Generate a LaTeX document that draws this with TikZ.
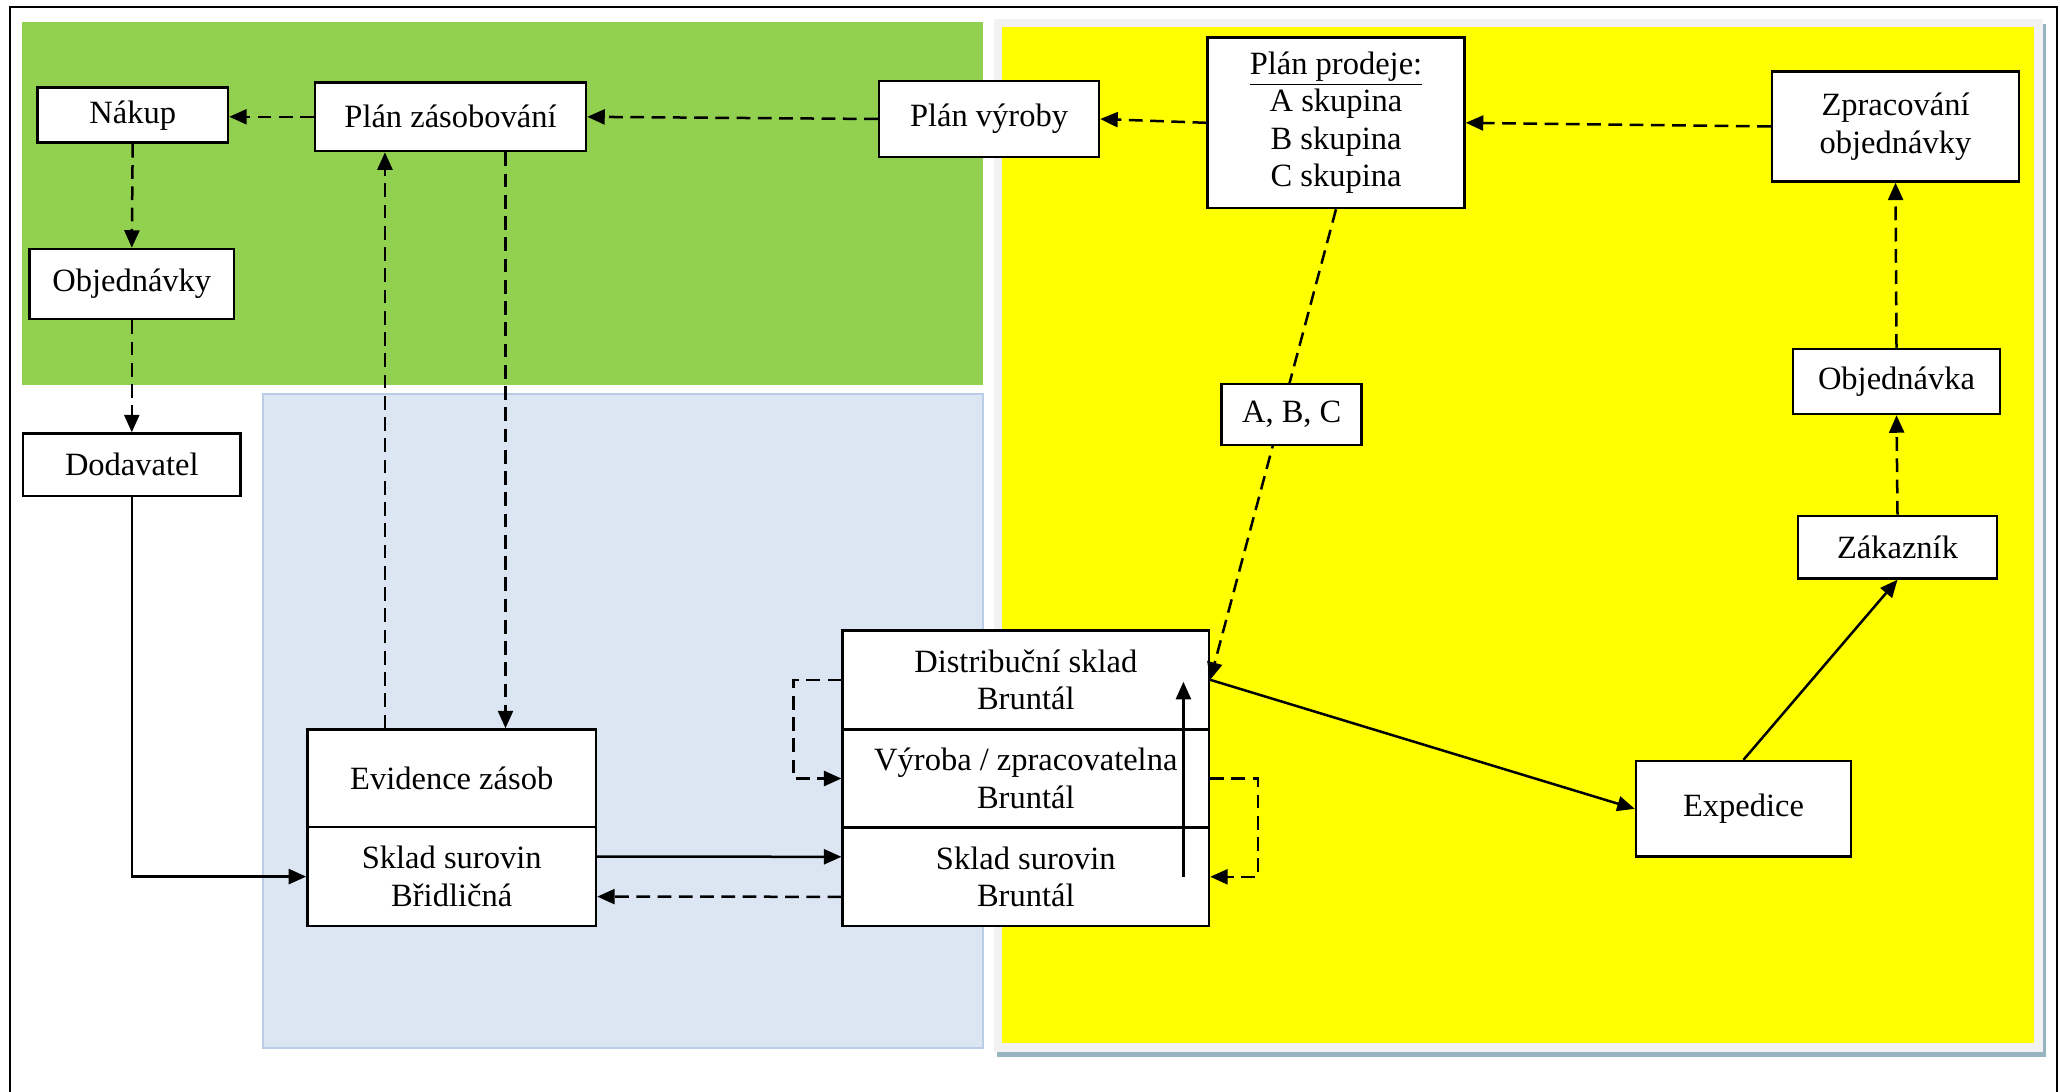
\documentclass[tikz,border=0pt]{standalone}
\usepackage{fontspec}
\setmainfont{Liberation Serif}
\usetikzlibrary{arrows.meta,calc}
\definecolor{grn}{HTML}{92D050}
\definecolor{blu}{HTML}{DCE6F2}
\definecolor{bluedge}{HTML}{B9CDE5}
\definecolor{ylw}{HTML}{FFFF00}
\definecolor{gry}{HTML}{F2F2F2}
\definecolor{shd}{HTML}{98B4C0}
\begin{document}
\begin{tikzpicture}[x=0.4pt,y=-0.4pt,
  box/.style={draw, line width=1pt, fill=white, align=center, inner sep=0pt,
    font=\fontsize{13}{15}\selectfont},
  solidarrow/.style={line width=1pt, -{Triangle[length=7pt,width=6pt]}},
  dasharrow/.style={line width=1pt, dash pattern=on 5.5pt off 3pt, -{Triangle[length=7pt,width=6pt]}}
]
\useasboundingbox (0,0) rectangle (2060,1092);
% frame
\draw[line width=0.8pt] (10,1092) -- (10,7) -- (2057,7) -- (2057,1092);
% backgrounds
\fill[grn] (22,22) rectangle (983,385);
\filldraw[fill=blu, draw=bluedge, line width=0.8pt] (263,394) rectangle (983,1048);
\fill[shd] (997,1024) rectangle (2046,1057);
\fill[shd] (2020,24) rectangle (2046,1057);
\fill[gry] (994,19) rectangle (2043,1052);
\fill[ylw] (1002,27) rectangle (2034,1043);

% nodes
\node[box, minimum width=76.2pt, minimum height=22pt] (nak) at (132.7,115.2) {Nákup};
\node[box, minimum width=108.4pt, minimum height=27.4pt] (pz) at (450.5,116.8) {Plán zásobování};
\node[box, minimum width=88pt, minimum height=30.4pt] (pv) at (989,119) {Plán výroby};
\node[box, minimum width=81.8pt, minimum height=28pt] (obj) at (131.8,284) {Objednávky};
\node[box, minimum width=87pt, minimum height=25pt] (dod) at (131.8,464.8) {Dodavatel};
\node[box, minimum width=102.8pt, minimum height=68.2pt] (pp) at (1336,122.8)
  {\underline{Plán prodeje:}\\A skupina\\B skupina\\C skupina};
\node[box, minimum width=98.8pt, minimum height=43.9pt] (zp) at (1895.5,126.5)
  {Zpracování\\objednávky};
\node[box, minimum width=82.8pt, minimum height=26pt] (objk) at (1896.5,381.5) {Objednávka};
\node[box, minimum width=79.6pt, minimum height=25pt] (zak) at (1897.5,547.2) {Zákazník};
\node[box, minimum width=86pt, minimum height=38.2pt] (exp) at (1743.5,808.8) {Expedice};
\node[box, minimum width=115.4pt, minimum height=39.1pt] (ev) at (451.7,778.4) {Evidence zásob};
\node[box, minimum width=115.4pt, minimum height=39.5pt] (sbr) at (451.7,876.6) {Sklad surovin\\Břidličná};
\node[box, minimum width=146.5pt, minimum height=39.6pt] (db) at (1025.8,679.8) {Distribuční sklad\\Bruntál};
\node[box, minimum width=146.5pt, minimum height=39.4pt] (vb) at (1025.8,778.5) {Výroba / zpracovatelna\\Bruntál};
\node[box, minimum width=146.5pt, minimum height=39.3pt] (sb) at (1025.8,876.8) {Sklad surovin\\Bruntál};

% connectors
\draw[dasharrow] (pz.west) -- (pz.west -| nak.east);
\draw[dasharrow] (pv.west) -- (pz.east);
\draw[dasharrow] (pp.west) -- (pv.east);
\draw[dasharrow] (zp.west) -- (pp.east);
\draw[dasharrow] (nak.south) -- (obj.north);
\draw[dasharrow] (obj.south) -- (dod.north);
\draw[solidarrow] (dod.south) |- (sbr.west);
\draw[dasharrow] ([xshift=-26.7pt]ev.north) -- ([xshift=-26.7pt]ev.north |- pz.south);
\draw[dasharrow] ([xshift=22pt]pz.south) -- ([xshift=22pt]pz.south |- ev.north);
\draw[solidarrow] ([yshift=8pt]sbr.east) -- ([yshift=8pt]sb.west);
\draw[dasharrow] ([yshift=-8pt]sb.west) -- ([yshift=-8pt]sbr.east);
\draw[dasharrow] (db.west) -- ++(-47.7,0) |- (vb.west);
\draw[dasharrow] (vb.east) -- ++(47.7,0) |- (sb.east);
\draw[solidarrow] ([xshift=-10.7pt]sb.east) -- ([xshift=-10.7pt,yshift=-0.8pt]db.east);
\draw[dasharrow] (pp.south) -- (db.east);
\draw[solidarrow] (db.east) -- (exp.west);
\draw[solidarrow] (exp.north) -- (zak.south);
\draw[dasharrow] (zak.north) -- (objk.south);
\draw[dasharrow] (objk.north) -- (zp.south);
% label box on the dashed line
\node[box, minimum width=56pt, minimum height=24.4pt] (abc) at (1291.7,414.5) {A, B, C};
\end{tikzpicture}
\end{document}
